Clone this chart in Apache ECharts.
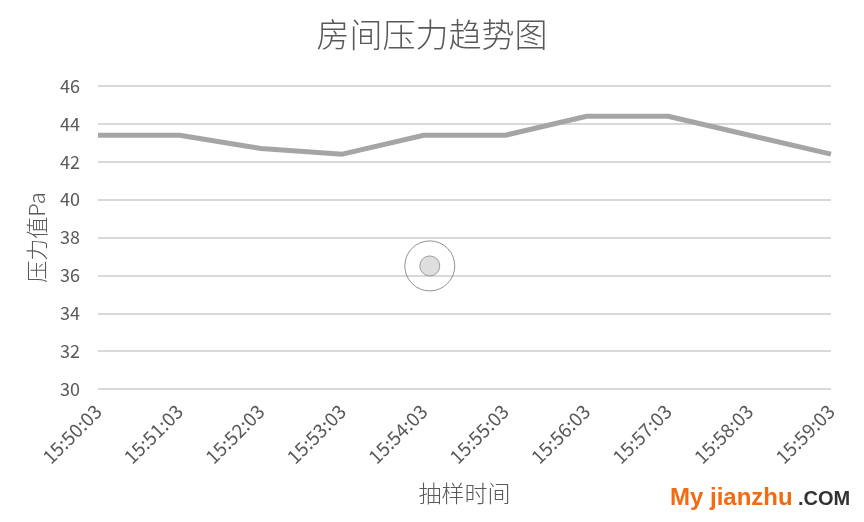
<!DOCTYPE html>
<html><head><meta charset="utf-8">
<script src="https://cdn.jsdelivr.net/npm/echarts@6/dist/echarts.min.js"></script>
<style>html,body{margin:0;padding:0;background:#fff}#c{width:864px;height:522px}</style>
</head><body><div id="c"></div>
<script>
const categories = ['15:50:03','15:51:03','15:52:03','15:53:03','15:54:03','15:55:03','15:56:03','15:57:03','15:58:03','15:59:03'];
const pressure = [43.4, 43.4, 42.7, 42.4, 43.4, 43.4, 44.4, 44.4, 43.4, 42.4];
const highlightPoint = [['15:54:03', 36.5]];
const yTicks = {min: 30, max: 46, interval: 2};

const font = '"Noto Sans CJK SC", "Noto Sans", sans-serif';
const chart = echarts.init(document.getElementById('c'), null, {renderer: 'canvas'});
chart.setOption({
  backgroundColor: '#fff',
  animation: false,
  title: {
    text: '房间压力趋势图', left: 'center', top: 13,
    textStyle: {fontFamily: font, fontSize: 33, fontWeight: 300, color: '#595959'}
  },
  grid: {left: 98, right: 33, top: 86, bottom: 133},
  xAxis: {
    type: 'category', data: categories, boundaryGap: false,
    name: '抽样时间', nameLocation: 'middle', nameGap: 93,
    nameTextStyle: {fontFamily: font, fontSize: 23, fontWeight: 300, color: '#595959'},
    axisLine: {show: false}, axisTick: {show: false},
    axisLabel: {rotate: 45, margin: 19, fontFamily: font, fontSize: 19, color: '#595959'}
  },
  yAxis: {
    type: 'value', min: yTicks.min, max: yTicks.max, interval: yTicks.interval,
    name: '压力值Pa', nameLocation: 'middle', nameGap: 50,
    nameTextStyle: {fontFamily: font, fontSize: 22, fontWeight: 300, color: '#595959'},
    axisLine: {show: false}, axisTick: {show: false},
    axisLabel: {margin: 18, fontFamily: font, fontSize: 18, color: '#595959'},
    splitLine: {lineStyle: {color: '#d9d9d9', width: 2}}
  },
  series: [
    {
      type: 'line', data: pressure, symbol: 'none',
      lineStyle: {color: '#a5a5a5', width: 5}
    },
    {
      type: 'scatter', data: highlightPoint, symbol: 'circle', symbolSize: 50,
      symbolOffset: [6, 0],
      itemStyle: {color: 'rgba(255,255,255,0)', borderColor: '#777', borderWidth: 1}, z: 3
    },
    {
      type: 'scatter', data: highlightPoint, symbol: 'circle', symbolSize: 20,
      symbolOffset: [6, 0],
      itemStyle: {color: '#d6d6d6', borderColor: '#8a8a8a', borderWidth: 1}, z: 4
    }
  ],
  graphic: [
    {type: 'text', left: 670, top: 486, style: {text: 'My jianzhu', font: 'bold 24px "Liberation Sans", Arial, sans-serif', fill: '#f26b12'}},
    {type: 'text', left: 798, top: 489, style: {text: '.COM', font: 'bold 20px "Liberation Sans", Arial, sans-serif', fill: '#333333'}}
  ]
});
</script></body></html>
